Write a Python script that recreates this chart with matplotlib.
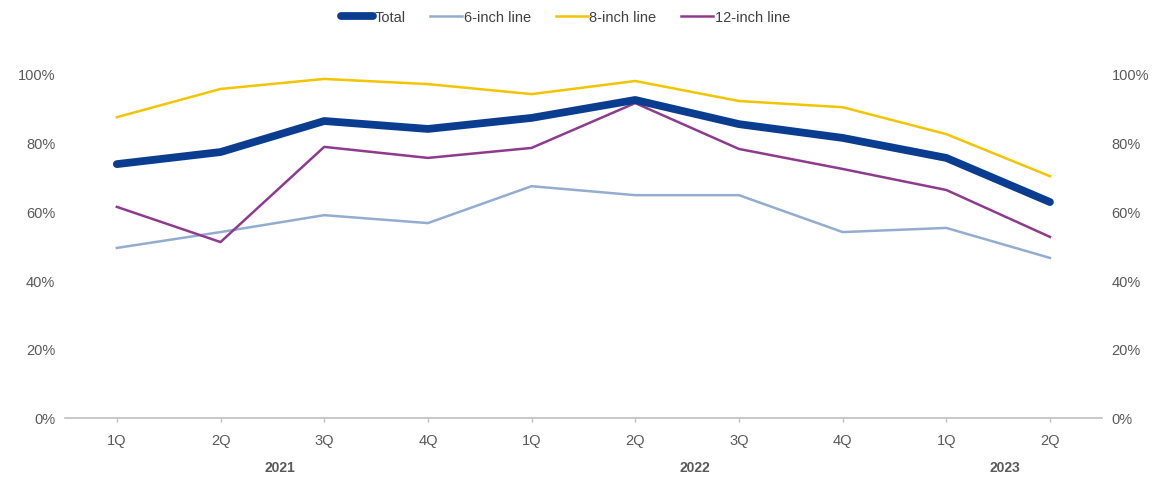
import matplotlib.pyplot as plt
from matplotlib.ticker import PercentFormatter

# Datos (utilización por trimestre, %)
quarters = ["1Q", "2Q", "3Q", "4Q", "1Q", "2Q", "3Q", "4Q", "1Q", "2Q"]
years = ["2021", "2022", "2023"]
year_groups = [(0, 3), (4, 7), (8, 9)]

total = [73.6, 77.1, 86.1, 83.8, 87.0, 92.2, 85.2, 81.2, 75.4, 62.6]
six_inch = [49.3, 53.9, 58.8, 56.5, 67.2, 64.6, 64.6, 53.9, 55.1, 46.4]
eight_inch = [87.2, 95.4, 98.3, 96.8, 93.9, 97.7, 91.9, 90.1, 82.3, 70.1]
twelve_inch = [61.2, 51.0, 78.6, 75.4, 78.3, 91.3, 78.0, 72.2, 66.1, 52.5]

plt.rcParams["font.family"] = ["Liberation Sans", "DejaVu Sans"]
txt_color = "#595959"
axis_color = "#bfbfbf"

fig = plt.figure(figsize=(11.61, 4.81), dpi=100)
ax = fig.add_axes([0.056, 0.129, 0.893, 0.717])

x = range(len(quarters))
ax.plot(x, total, color="#0a3d8f", lw=5.6, solid_capstyle="round", label="Total", zorder=4)
ax.plot(x, six_inch, color="#93add0", lw=1.8, label="6-inch line", zorder=3)
ax.plot(x, eight_inch, color="#f2c500", lw=1.8, label="8-inch line", zorder=3)
ax.plot(x, twelve_inch, color="#8e3b8e", lw=1.8, label="12-inch line", zorder=3)

ax.set_xlim(-0.5, len(quarters) - 0.5)
ax.set_ylim(0, 100)
ax.set_yticks(range(0, 101, 20))
ax.yaxis.set_major_formatter(PercentFormatter(decimals=0))
ax.set_xticks(list(x))
ax.set_xticklabels(quarters)

for s in ["top", "right", "left"]:
    ax.spines[s].set_visible(False)
ax.spines["bottom"].set_color(axis_color)
ax.spines["bottom"].set_linewidth(1.2)
ax.tick_params(axis="x", colors=axis_color, length=3, width=1, pad=8, labelcolor=txt_color, labelsize=10.5)
ax.tick_params(axis="y", length=0, pad=7, labelcolor=txt_color, labelsize=10.5)

# eje derecho
ax2 = ax.twinx()
ax2.set_ylim(ax.get_ylim())
ax2.set_yticks(range(0, 101, 20))
ax2.yaxis.set_major_formatter(PercentFormatter(decimals=0))
for s in ["top", "right", "left", "bottom"]:
    ax2.spines[s].set_visible(False)
ax2.tick_params(axis="y", length=0, pad=7, labelcolor=txt_color, labelsize=10.5)

# años
for yr, (a, b) in zip(years, year_groups):
    ax.text((a + b) / 2 + 0.07, -0.143, yr, transform=ax.get_xaxis_transform(),
            ha="center", va="center", fontsize=10, fontweight="bold", color=txt_color)

fig.legend(loc="upper center", bbox_to_anchor=(0.487, 1.005), ncol=4, frameon=False,
           fontsize=10.5, handlelength=2.2, handletextpad=0.1, columnspacing=1.7,
           labelcolor="#404040")

fig.savefig("out.png", dpi=100)
